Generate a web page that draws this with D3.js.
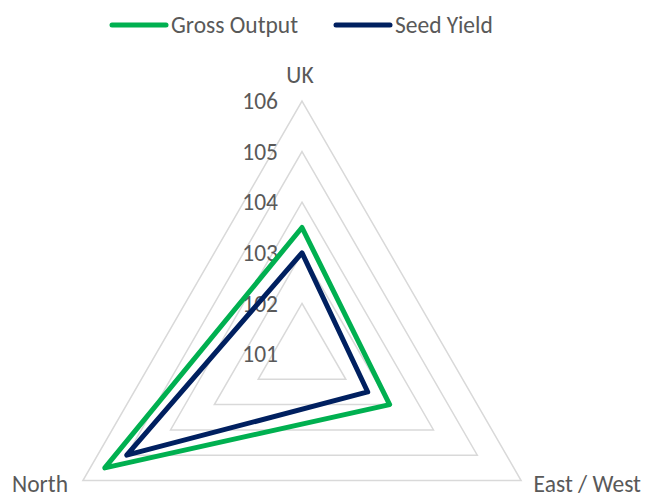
<!DOCTYPE html>
<html>
<head>
<meta charset="utf-8">
<script src="https://cdn.jsdelivr.net/npm/d3@7"></script>
<style>
  body { margin: 0; background: #fff; }
  text { font-family: Carlito, "Noto Sans", sans-serif; fill: #595959; }
</style>
</head>
<body>
<svg width="646" height="495"></svg>
<script>
// chart data
const axesNames = ["UK", "East / West", "North"];
const grossOutput = [103.5, 103.0, 105.5];
const seedYield = [103.0, 102.5, 105.0];
const ringTicks = [101, 102, 103, 104, 105, 106];
const seriesNames = ["Gross Output", "Seed Yield"];
const seriesColors = ["#00b050", "#002060"];

const svg = d3.select("svg");
const cx = 302, cy = 354, R = 253;
const fs = 23.5;

const r = d3.scaleLinear().domain([101, 106]).range([0, R]);
const angle = i => -Math.PI / 2 + i * 2 * Math.PI / axesNames.length;
const pt = (v, i) => [cx + r(v) * Math.cos(angle(i)), cy + r(v) * Math.sin(angle(i))];

// grid triangles
svg.append("g")
  .selectAll("polygon")
  .data(ringTicks.slice(1))
  .join("polygon")
  .attr("points", t => axesNames.map((a, i) => pt(t, i).join(",")).join(" "))
  .attr("fill", "none")
  .attr("stroke", "#d9d9d9")
  .attr("stroke-width", 1.5);

// tick labels
svg.append("g")
  .selectAll("text")
  .data(ringTicks)
  .join("text")
  .attr("x", cx - 24)
  .attr("y", t => cy - r(t))
  .attr("dy", "0.35em")
  .attr("text-anchor", "end")
  .attr("font-size", fs)
  .text(t => t);

// series
const line = d3.line().curve(d3.curveLinearClosed);
[grossOutput, seedYield].forEach((vals, k) => {
  svg.append("path")
    .attr("d", line(vals.map((v, i) => pt(v, i))))
    .attr("fill", "none")
    .attr("stroke", seriesColors[k])
    .attr("stroke-width", 5)
    .attr("stroke-linejoin", "round");
});

// axis labels
svg.append("text").attr("x", cx - 2).attr("y", 75).attr("dy", "0.35em")
  .attr("text-anchor", "middle").attr("font-size", fs).text(axesNames[0]);
svg.append("text").attr("x", 641).attr("y", 484).attr("dy", "0.35em")
  .attr("text-anchor", "end").attr("font-size", fs).text(axesNames[1]);
svg.append("text").attr("x", 12).attr("y", 484).attr("dy", "0.35em")
  .attr("text-anchor", "start").attr("font-size", fs).text(axesNames[2]);

// legend
const legendX = [112, 336];
seriesNames.forEach((name, k) => {
  const g = svg.append("g").attr("transform", `translate(${legendX[k]},25)`);
  g.append("line").attr("x1", 0).attr("x2", 54)
    .attr("stroke", seriesColors[k]).attr("stroke-width", 5).attr("stroke-linecap", "round");
  g.append("text").attr("x", 59).attr("dy", "0.35em").attr("font-size", fs).text(name);
});
</script>
</body>
</html>
